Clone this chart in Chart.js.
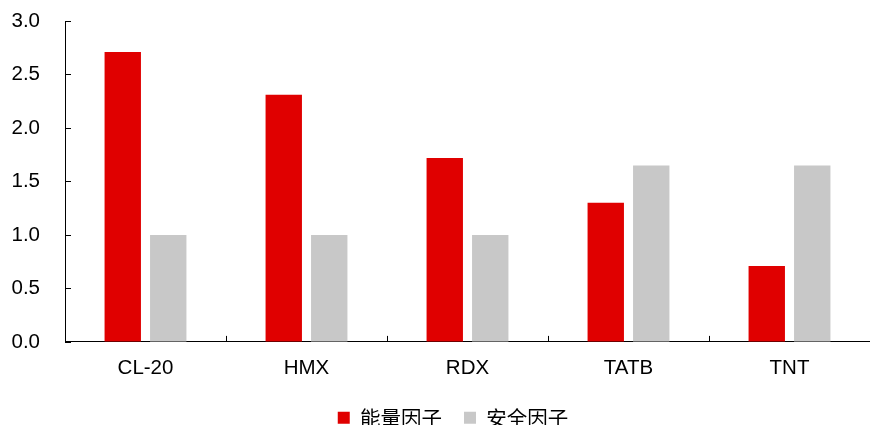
<!DOCTYPE html>
<html>
<head>
<meta charset="utf-8">
<script src="https://cdn.jsdelivr.net/npm/chart.js@4/dist/chart.umd.min.js"></script>
<style>
  html, body { margin: 0; padding: 0; background: #fff; }
  #wrap { width: 870px; height: 425px; }
</style>
</head>
<body>
<div id="wrap"><canvas id="c"></canvas></div>
<script>
// 数据
const categories = ['CL-20', 'HMX', 'RDX', 'TATB', 'TNT'];
const energy = [2.71, 2.31, 1.72, 1.30, 0.71];   // 能量因子
const safety = [1.0, 1.0, 1.0, 1.65, 1.65];      // 安全因子
const yTicks = [0, 0.5, 1.0, 1.5, 2.0, 2.5, 3.0];

const FONT = '"Liberation Sans", Arial, sans-serif';

// 刻度线画在坐标轴内侧
const innerTicks = {
  id: 'innerTicks',
  afterLayout(chart) {
    // 图例整体略向右移
    chart.legend.left += 12;
    chart.legend.right += 12;
  },
  afterDraw(chart) {
    const ctx = chart.ctx;
    const x = chart.scales.x, y = chart.scales.y;
    ctx.save();
    ctx.strokeStyle = '#000';
    ctx.lineWidth = 1;
    ctx.beginPath();
    yTicks.forEach(v => {
      const py = Math.round(y.getPixelForValue(v)) + 0.5;
      ctx.moveTo(x.left, py);
      ctx.lineTo(x.left + 6, py);
    });
    for (let i = 0; i < categories.length; i++) {
      const px = Math.round(x.getPixelForValue(i) + (x.getPixelForValue(1) - x.getPixelForValue(0)) / 2) + 0.5;
      ctx.moveTo(px, y.bottom);
      ctx.lineTo(px, y.bottom - 6);
    }
    ctx.stroke();
    ctx.restore();
  }
};

new Chart(document.getElementById('c'), {
  type: 'bar',
  data: {
    labels: categories,
    datasets: [
      {
        label: '能量因子',
        data: energy,
        backgroundColor: '#e00000',
        categoryPercentage: 0.565,
        barPercentage: 0.8
      },
      {
        label: '安全因子',
        data: safety,
        backgroundColor: '#c8c8c8',
        categoryPercentage: 0.565,
        barPercentage: 0.8
      }
    ]
  },
  options: {
    responsive: true,
    maintainAspectRatio: false,
    animation: false,
    layout: { padding: { left: 12, right: 0, top: 21, bottom: -13 } },
    plugins: {
      tooltip: { enabled: false },
      legend: {
        position: 'bottom',
        labels: {
          font: { family: '"Noto Sans CJK SC", sans-serif', size: 20.5 },
          color: '#000',
          boxWidth: 12,
          boxHeight: 12,
          padding: 22
        }
      }
    },
    scales: {
      x: {
        grid: { display: false, drawTicks: false },
        border: { color: '#000', width: 1 },
        ticks: {
          font: { family: FONT, size: 20.5 },
          color: '#000',
          padding: 14
        },
        afterFit: s => { s.height -= 9; }
      },
      y: {
        min: 0,
        max: 3,
        grid: {
          display: true,
          drawOnChartArea: false,
          drawTicks: true,
          tickLength: 25,
          tickColor: 'rgba(0,0,0,0)'
        },
        border: { color: '#000', width: 1 },
        ticks: {
          stepSize: 0.5,
          font: { family: FONT, size: 20.5 },
          color: '#000',
          padding: 0,
          callback: v => v.toFixed(1)
        },
        afterFit: s => { s.width = 53; }
      }
    }
  },
  plugins: [innerTicks]
});
</script>
</body>
</html>
